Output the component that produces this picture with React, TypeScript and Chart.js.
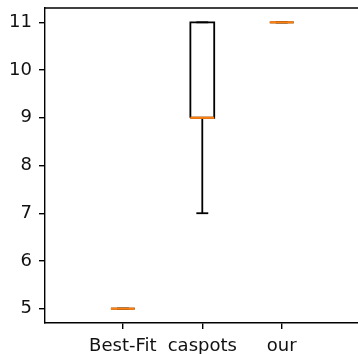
import React, { useEffect, useRef } from "react";
import { Chart, registerables } from "chart.js";

Chart.register(...registerables);

const categories = ["Best-Fit", "caspots", "our"];
const positions = [1, 2, 3];
const whiskerLow = [5, 7, 11];
const q1 = [5, 9, 11];
const median = [5, 9, 11];
const q3 = [5, 11, 11];
const whiskerHigh = [5, 11, 11];
const yTicks = [5, 6, 7, 8, 9, 10, 11];

const BOX_HALF = 0.15;
const CAP_HALF = 0.075;
const FONT = "'DejaVu Sans', sans-serif";
const LW = 1.8;

function seg(points: { x: number; y: number }[], color: string, width: number, order: number) {
  return {
    data: points,
    showLine: true,
    borderColor: color,
    borderWidth: width,
    pointRadius: 0,
    pointHoverRadius: 0,
    fill: false,
    tension: 0,
    order,
  };
}

const topSpine = {
  id: "topSpine",
  afterDraw(chart: any) {
    const { ctx, chartArea } = chart;
    ctx.save();
    ctx.strokeStyle = "#000";
    ctx.lineWidth = 1.4;
    ctx.beginPath();
    ctx.moveTo(chartArea.left, chartArea.top);
    ctx.lineTo(chartArea.right, chartArea.top);
    ctx.stroke();
    ctx.restore();
  },
};

function noPad(s: any) {
  s.paddingTop = 0;
  s.paddingBottom = 0;
  s.paddingLeft = 0;
  s.paddingRight = 0;
}

export default function App() {
  const ref = useRef<HTMLCanvasElement | null>(null);

  useEffect(() => {
    document.body.style.margin = "0";
    const datasets: any[] = [];
    positions.forEach((p, i) => {
      datasets.push(
        seg(
          [
            { x: p - BOX_HALF, y: q1[i] },
            { x: p + BOX_HALF, y: q1[i] },
            { x: p + BOX_HALF, y: q3[i] },
            { x: p - BOX_HALF, y: q3[i] },
            { x: p - BOX_HALF, y: q1[i] },
          ],
          "#000",
          LW,
          2
        )
      );
      datasets.push(seg([{ x: p, y: q1[i] }, { x: p, y: whiskerLow[i] }], "#000", LW, 2));
      datasets.push(seg([{ x: p, y: q3[i] }, { x: p, y: whiskerHigh[i] }], "#000", LW, 2));
      datasets.push(
        seg([{ x: p - CAP_HALF, y: whiskerLow[i] }, { x: p + CAP_HALF, y: whiskerLow[i] }], "#000", LW, 2)
      );
      datasets.push(
        seg([{ x: p - CAP_HALF, y: whiskerHigh[i] }, { x: p + CAP_HALF, y: whiskerHigh[i] }], "#000", LW, 2)
      );
      datasets.push(
        seg([{ x: p - BOX_HALF, y: median[i] }, { x: p + BOX_HALF, y: median[i] }], "#ff7f0e", 2.2, 0)
      );
    });

    const chart = new Chart(ref.current as HTMLCanvasElement, {
      type: "scatter",
      data: { datasets },
      plugins: [topSpine],
      options: {
        animation: false,
        responsive: false,
        devicePixelRatio: 1,
        layout: { padding: { top: 8, left: 0, right: 0, bottom: 0 } },
        plugins: { legend: { display: false }, tooltip: { enabled: false } },
        scales: {
          x: {
            type: "linear",
            min: 0.02,
            max: 3.96,
            afterBuildTicks: (s: any) => {
              s.ticks = positions.map((v) => ({ value: v }));
            },
            afterFit: (s: any) => {
              s.height = 31;
              noPad(s);
            },
            ticks: {
              autoSkip: false,
              maxRotation: 0,
              padding: 7,
              color: "#111",
              font: { family: FONT, size: 18 },
              callback: (v: any) => categories[positions.indexOf(Number(v))] ?? "",
            },
            grid: { drawOnChartArea: false, drawTicks: true, tickLength: 6, color: "#000", lineWidth: 1.4 },
            border: { display: true, color: "#000", width: 1.4 },
          },
          y: {
            type: "linear",
            min: 4.7,
            max: 11.3,
            afterBuildTicks: (s: any) => {
              s.ticks = yTicks.map((v) => ({ value: v }));
            },
            afterFit: (s: any) => {
              s.width = 45;
              noPad(s);
            },
            ticks: {
              padding: 7,
              color: "#111",
              font: { family: FONT, size: 18 },
              callback: (v: any) => String(v),
            },
            grid: { drawOnChartArea: false, drawTicks: true, tickLength: 6, color: "#000", lineWidth: 1.4 },
            border: { display: true, color: "#000", width: 1.4 },
          },
        },
      },
    });
    return () => chart.destroy();
  }, []);

  return (
    <div style={{ position: "absolute", left: 0, top: 0, width: 358, height: 354, background: "#fff" }}>
      <canvas ref={ref} width={358} height={354} style={{ display: "block" }} />
    </div>
  );
}
